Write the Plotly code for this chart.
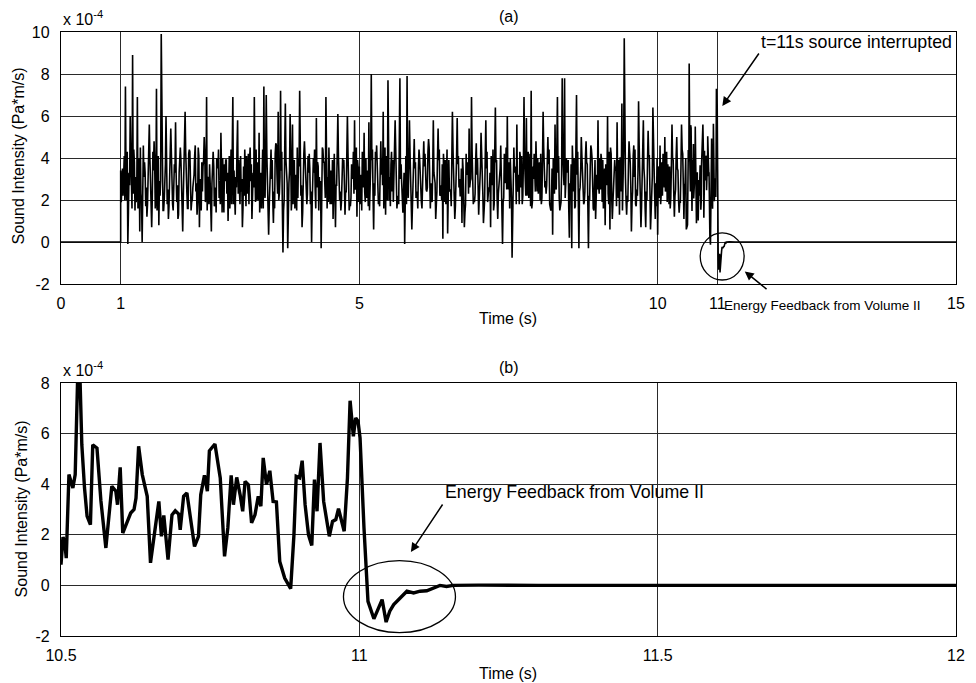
import numpy as np
import plotly.graph_objects as go

# ---------------- data (values in units of 1e-4 Pa*m/s) ----------------
# panel (a): source on from t = 1 s; peaks/troughs read every 0.04 s (1.00 .. 10.48 s)
a_t0 = 1.0
a_dt = 0.04
a_vals = [
    # 1.00 - 1.96
    3.4, 2.2, 7.4, -0.1, 6.0, 8.9, 1.5, 6.9, 0.5, 0.0, 3.8, 1.2, 5.6, 0.7, 4.8, 7.3, 0.8, 9.9, 1.5, 6.0, 1.1, 5.4, 1.5, 5.7, 1.1,
    # 2.00 - 2.96
    4.5, 0.5, 6.2, 1.6, 4.3, 2.0, 4.1, 1.3, 0.7, 3.8, 5.0, 6.9, 1.8, 0.5, 3.6, 1.4, 4.4, 5.2, 1.5, 3.9, 1.0, 3.2, 6.9, 1.3, 5.8,
    # 3.00 - 3.96
    1.8, 0.7, 4.4, 2.3, 3.9, 1.1, 6.9, 2.0, 5.2, 1.6, 7.4, 7.0, 0.35, 4.4, 0.9, 4.7, 6.2, 7.2, -0.5, 6.6, -0.3, 6.1, 5.6, 1.6, 4.5,
    # 4.00 - 4.96
    7.2, 0.7, 4.8, 1.8, 4.2, 0.0, 3.3, 5.9, 1.5, -0.3, 3.8, 6.9, 1.9, 3.4, 1.1, 0.7, 6.1, 2.4, 4.0, 1.3, 6.0, 1.8, 3.1, 5.8, 1.2,
    # 5.00 - 5.96
    3.6, 1.5, 5.2, 2.1, 5.7, 8.0, 0.6, 3.9, 1.8, 4.8, 6.2, 1.3, 7.7, 1.7, 3.9, 5.8, 2.0, 7.8, 1.6, -0.1, 7.9, 5.8, 0.6, 4.9, 2.4,
    # 6.00 - 6.96
    4.4, 1.9, 4.8, 2.5, 4.9, 2.8, 5.8, 1.1, 5.4, 2.3, 0.15, 3.9, 0.4, 2.5, 6.2, 1.1, 5.9, 3.0, 0.9, 0.7, 3.2, 5.4, 6.9, 2.0, 4.7,
    # 7.00 - 7.96
    1.3, 5.2, 0.9, 5.8, 2.6, 0.7, 4.4, 6.4, 1.1, 3.5, -0.1, 2.8, 6.0, 1.6, -0.75, 3.3, 5.6, 1.8, 4.1, 6.9, 5.9, 2.1, 7.2, 3.0, 4.8,
    # 8.00 - 8.96
    2.3, 4.2, 6.2, 2.9, 5.0, 1.7, 0.35, 5.6, 6.9, 1.5, 7.8, 7.8, 3.3, 0.2, -0.3, 4.0, 7.0, -0.3, 5.0, 1.8, 4.8, -0.3, 4.6, 1.6, 1.1,
    # 9.00 - 9.96
    5.8, 2.5, 3.9, 0.8, 6.0, 0.6, 1.1, 3.9, 5.7, 1.3, 6.6, 9.7, 1.3, 4.8, 0.5, 4.6, 1.7, 6.7, 0.7, 5.8, 0.7, 5.3, 0.6, 6.4, 1.1,
    # 10.00 - 10.48
    0.35, 4.6, 2.2, 5.0, 1.9, 3.6, 5.6, 1.2, 5.0, 1.4, 5.6, 1.1, 0.6,
]
# panel (a): the dense core of the band, read between those points
# offset +0.02 s (1.02 .. 10.46 s)
a_mid_vals = [
    2.6, 4.1, 2.0, 3.3, 2.5, 4.4, 1.9, 3.6, 2.3, 4.6, 1.7, 3.2, 2.9, 4.3, 1.6, 3.4, 2.2, 4.0, 2.7, 1.8, 3.9, 2.4, 3.7, 1.9, 3.3,
    2.1, 3.8, 2.6, 4.2, 1.5, 3.0, 2.4, 4.5, 2.2, 3.6, 1.9, 3.1, 2.8, 4.0, 2.0, 3.5, 2.5, 1.4, 3.7, 2.3, 4.1, 1.8, 3.4, 2.6, 3.9,
    2.4, 3.6, 1.7, 4.2, 2.9, 3.3, 1.9, 3.8, 2.5, 4.4, 2.1, 3.0, 2.7, 3.9, 1.6, 3.2, 2.3, 4.3, 2.0, 3.5, 2.8, 1.5, 3.7, 2.4, 4.0,
    2.2, 3.4, 2.6, 4.1, 1.8, 3.1, 2.5, 3.8, 2.0, 4.5, 2.9, 1.6, 3.6, 2.3, 4.2, 2.7, 3.3, 1.9, 3.9, 2.4, 3.0, 2.1, 4.3, 2.6, 3.5,
    2.5, 3.9, 1.9, 3.2, 2.8, 4.4, 2.2, 3.5, 1.7, 4.0, 2.6, 3.1, 2.0, 4.3, 2.9, 3.4, 1.8, 3.7, 2.4, 4.1, 2.1, 3.0, 2.7, 3.8, 1.6,
    3.3, 2.3, 4.2, 2.6, 3.6, 1.9, 3.0, 2.4, 4.4, 2.0, 3.5, 2.7, 3.9, 1.7, 3.2, 2.5, 4.1, 2.2, 3.4, 1.8, 3.8, 2.9, 3.1, 2.3, 4.0,
    2.6, 3.7, 2.0, 4.3, 2.4, 3.2, 1.8, 3.9, 2.7, 3.4, 2.1, 4.5, 2.5, 3.0, 1.6, 3.6, 2.8, 4.0, 2.2, 3.3, 2.6, 4.2, 1.9, 3.5, 2.4,
    3.8, 2.1, 3.4, 2.7, 4.4, 2.0, 3.1, 2.5, 4.1, 1.9, 3.6, 2.8, 3.9, 2.2, 3.3, 1.7, 4.3, 2.6, 3.0, 2.4, 3.7, 2.0, 4.0, 2.9, 3.2,
    2.3, 3.9, 2.6, 3.3, 1.8, 4.2, 2.5, 3.6, 2.1, 4.0, 2.8, 3.1, 1.9, 3.8, 2.4, 4.4, 2.2, 3.4, 2.7, 3.0, 2.0, 4.1, 2.6, 3.5, 1.7,
    3.6, 2.3, 4.0, 2.7, 3.2, 2.1, 3.9, 2.5, 3.4, 1.9, 4.2, 2.8,
]
# offset +0.01 s (1.01 .. 10.45 s)
a_q1_vals = [
    1.9, 3.7, 2.8, 1.4, 4.2, 2.3, 3.1, 1.6, 4.5, 2.7, 3.3, 1.8, 4.0, 2.1, 3.8, 1.5, 2.9, 4.4, 2.0, 3.6, 1.7, 4.1, 2.5, 3.2, 1.3,
    3.9, 2.2, 4.3, 1.6, 3.4, 2.6, 4.6, 1.9, 3.0, 2.4, 4.2, 1.5, 3.7, 2.8, 1.7, 4.0, 2.1, 3.5, 1.4, 3.9, 2.6, 4.4, 1.8, 3.1, 2.3,
    4.1, 1.6, 3.3, 2.5, 4.5, 1.9, 3.6, 2.2, 1.4, 3.8, 2.7, 4.2, 1.7, 3.0, 2.4, 4.6, 2.0, 3.4, 1.5, 3.9, 2.6, 4.3, 1.8, 3.2, 2.1,
    3.7, 1.4, 4.0, 2.3, 3.5, 1.9, 4.4, 2.6, 3.1, 1.6, 3.8, 2.2, 4.5, 1.8, 3.3, 2.7, 4.1, 1.5, 3.6, 2.4, 4.2, 1.7, 3.0, 2.5, 3.9,
    1.8, 4.3, 2.4, 3.4, 1.5, 3.9, 2.8, 4.6, 2.0, 3.2, 1.6, 4.1, 2.5, 3.7, 1.9, 4.4, 2.2, 3.0, 1.4, 3.8, 2.7, 4.2, 1.7, 3.5, 2.3,
    4.0, 1.6, 3.6, 2.4, 4.5, 2.0, 3.3, 1.5, 3.9, 2.7, 4.2, 1.8, 3.1, 2.5, 4.4, 1.7, 3.7, 2.2, 4.0, 1.4, 3.4, 2.6, 4.3, 1.9, 3.2,
    2.1, 4.4, 1.7, 3.5, 2.6, 4.1, 1.5, 3.8, 2.3, 4.6, 1.9, 3.2, 2.7, 4.0, 1.4, 3.6, 2.4, 4.3, 1.8, 3.9, 2.2, 3.1, 1.6, 4.2, 2.5,
    3.4, 1.8, 4.5, 2.3, 3.7, 1.5, 4.0, 2.6, 3.3, 1.7, 4.3, 2.1, 3.6, 2.8, 4.6, 1.6, 3.2, 2.4, 4.1, 1.9, 3.8, 2.2, 4.4, 1.5, 3.0,
    2.7, 4.2, 1.6, 3.7, 2.3, 4.5, 1.9, 3.4, 2.6, 4.0, 1.5, 3.8, 2.2, 4.3, 1.8, 3.1, 2.5, 4.6, 1.7, 3.5, 2.4, 4.1, 1.4, 3.9, 2.8,
    3.3, 1.8, 4.2, 2.4, 3.7, 1.6, 4.0, 2.2, 3.5, 1.9, 4.4, 2.6,
]
# offset +0.03 s (1.03 .. 10.47 s)
a_q3_vals = [
    3.5, 2.0, 4.3, 2.7, 1.6, 3.8, 2.4, 4.0, 1.9, 3.1, 2.6, 4.5, 1.7, 3.4, 2.2, 4.1, 2.9, 1.5, 3.7, 2.5, 4.2, 1.8, 3.3, 2.7, 4.0,
    1.7, 3.6, 2.3, 4.4, 1.9, 3.2, 2.8, 4.1, 1.5, 3.9, 2.4, 3.0, 2.0, 4.3, 2.6, 3.5, 1.8, 4.0, 2.9, 3.3, 1.6, 3.8, 2.2, 4.5, 2.5,
    3.0, 2.2, 4.1, 1.8, 3.7, 2.6, 4.4, 2.0, 3.3, 1.6, 4.0, 2.5, 3.6, 1.9, 4.2, 2.3, 3.1, 1.7, 4.5, 2.8, 3.4, 2.1, 3.9, 1.5, 3.6,
    2.7, 4.2, 1.9, 3.3, 2.4, 4.0, 1.6, 3.6, 2.9, 4.4, 2.1, 3.1, 1.8, 3.9, 2.5, 4.3, 2.0, 3.4, 2.7, 4.1, 1.5, 3.7, 2.3, 4.5, 1.9,
    3.2, 2.6, 4.0, 1.7, 3.6, 2.2, 4.3, 1.9, 3.4, 2.7, 4.5, 2.0, 3.1, 2.4, 3.9, 1.6, 4.2, 2.8, 3.3, 1.8, 3.7, 2.5, 4.1, 2.1, 3.5,
    2.0, 3.8, 2.5, 4.3, 1.6, 3.4, 2.8, 4.0, 2.2, 3.7, 1.9, 4.4, 2.4, 3.2, 1.7, 4.1, 2.6, 3.5, 2.0, 4.2, 2.3, 3.0, 1.8, 3.9, 2.7,
    3.6, 2.3, 4.0, 1.9, 3.3, 2.7, 4.4, 2.0, 3.5, 1.6, 4.2, 2.5, 3.8, 2.1, 4.5, 1.8, 3.2, 2.6, 3.9, 2.2, 4.3, 1.7, 3.6, 2.4, 4.0,
    2.0, 3.9, 2.6, 4.2, 1.8, 3.5, 2.3, 4.4, 2.1, 3.2, 2.7, 4.0, 1.6, 3.7, 2.4, 4.5, 1.9, 3.4, 2.8, 4.1, 1.7, 3.6, 2.2, 3.9, 2.5,
    4.0, 1.9, 3.5, 2.7, 4.3, 2.1, 3.2, 1.7, 3.9, 2.4, 4.4, 2.0, 3.6, 2.6, 4.1, 1.8, 3.3, 2.3, 4.2, 1.6, 3.8, 2.5, 3.1, 2.2, 4.0,
    2.1, 3.8, 2.6, 4.3, 1.8, 3.6, 2.3, 4.1, 2.0, 3.5, 2.7, 4.0,
]
# silent before the source starts, and after the feedback has died out
pre_t = [0.0, 1.0]
pre_v = [0.0, 0.0]
post_t = [15.0]
post_v = [0.0]

# panel (b): detail 10.5 s - 12 s
b_t = [10.500, 10.5033, 10.5061, 10.5088, 10.5133, 10.5199, 10.5238, 10.5282, 10.5316, 10.5349,
       10.5394, 10.5437, 10.5493, 10.5532, 10.5603, 10.5669, 10.5752, 10.5852, 10.5919, 10.5947,
       10.5992, 10.6035, 10.6113, 10.6168, 10.6224, 10.6257, 10.6301, 10.6362, 10.6445, 10.6500,
       10.6583, 10.6640, 10.6683, 10.6723, 10.6794, 10.6860, 10.6915, 10.6972, 10.6998, 10.7055,
       10.7110, 10.7164, 10.7238, 10.7304, 10.7342, 10.7404, 10.7453, 10.7487, 10.7580, 10.7669,
       10.7741, 10.7796, 10.7852, 10.7890, 10.7945, 10.8002, 10.8045, 10.8085, 10.8140, 10.8194,
       10.8251, 10.8306, 10.8350, 10.8389, 10.8444, 10.8500, 10.8555, 10.8610, 10.8666, 10.8749,
       10.8849, 10.8904, 10.8942, 10.8998, 10.9042, 10.9091, 10.9148, 10.9203, 10.9248, 10.9291,
       10.9341, 10.9402, 10.9457, 10.9497, 10.9551, 10.9606, 10.9651, 10.9706, 10.9746, 10.9801,
       10.9845, 10.9900, 10.9939, 10.9978, 11.0012, 11.0078, 11.0145, 11.0244, 11.0327, 11.0382,
       11.0449, 11.0510, 11.0576, 11.0659, 11.0714, 11.0797, 11.0909, 11.1018, 11.1130, 11.1241,
       11.1351, 11.1462, 11.1573, 11.20, 11.25, 11.30, 12.0]
b_v = [0.82, 1.91, 1.75, 1.08, 4.38, 3.85, 4.38, 8.5, 8.4, 5.56,
       3.85, 2.74, 2.40, 5.56, 5.43, 3.34, 1.48, 3.92, 3.72, 3.19,
       4.67, 2.07, 2.53, 2.86, 3.0, 3.45, 5.5, 4.38, 3.52, 0.89,
       2.34, 3.32, 1.94, 2.77, 1.02, 2.79, 2.95, 2.82, 2.20, 3.52,
       3.65, 2.66, 1.54, 1.94, 3.58, 4.35, 3.72, 5.32, 5.59, 4.25,
       1.15, 2.27, 4.35, 3.19, 4.27, 3.58, 2.93, 4.11, 3.98, 2.47,
       2.79, 3.52, 3.13, 5.04, 3.98, 4.53, 3.32, 3.30, 0.95, 0.29,
       -0.13, 2.0, 4.31, 4.25, 4.93, 3.19, 2.0, 1.58, 4.18, 2.93,
       5.63, 3.32, 2.60, 1.94, 2.53, 2.60, 3.03, 2.53, 2.14, 4.25,
       7.30, 5.89, 6.62, 6.49, 5.83, 2.27, -0.63, -1.32, -0.89, -0.56,
       -1.45, -1.02, -0.76, -0.56, -0.43, -0.23, -0.30, -0.23, -0.21, -0.10,
       0.0, -0.04, 0.0, 0.01, -0.01, 0.0, 0.0]

a_xticks = [0, 1, 5, 10, 11, 15]
a_yticks = [-2, 0, 2, 4, 6, 8, 10]
b_xticks = [10.5, 11, 11.5, 12]
b_yticks = [-2, 0, 2, 4, 6, 8]

# ---------------- build panel (a) series ----------------
pts = [(a_t0 + a_dt * i, v) for i, v in enumerate(a_vals)]
pts += [(a_t0 + 0.01 + a_dt * i, v) for i, v in enumerate(a_q1_vals)]
pts += [(a_t0 + 0.02 + a_dt * i, v) for i, v in enumerate(a_mid_vals)]
pts += [(a_t0 + 0.03 + a_dt * i, v) for i, v in enumerate(a_q3_vals)]
pts.sort(key=lambda p: p[0])
a_t = [p[0] for p in pts if p[0] < 10.5]
a_v = [p[1] for p in pts if p[0] < 10.5]
full_t = pre_t + a_t + b_t + post_t
full_v = pre_v + a_v + b_v + post_v

# ---------------- figure ----------------
W, H = 976, 683
ML, MR, MT, MB = 61, 11, 32, 47
PW = W - ML - MR
PH = H - MT - MB


def px(x):
    return (x - ML) / PW


def py(y):
    return (H - MB - y) / PH


FONT = "Arial, Liberation Sans, Helvetica, sans-serif"
GRID = "#2a2a2a"
FS = 16

fig = go.Figure()
fig.add_trace(go.Scatter(x=full_t, y=full_v, mode="lines",
                         line=dict(color="black", width=1.6),
                         xaxis="x", yaxis="y", showlegend=False, hoverinfo="skip"))
fig.add_trace(go.Scatter(x=b_t, y=b_v, mode="lines",
                         line=dict(color="black", width=3.4),
                         xaxis="x2", yaxis="y2", showlegend=False, hoverinfo="skip"))

axis_common = dict(showline=True, mirror=True, linecolor="black", linewidth=1.3,
                   showgrid=True, gridcolor=GRID, gridwidth=1.2, zeroline=False,
                   ticks="", tickfont=dict(family=FONT, size=FS, color="black"))

fig.update_layout(
    width=W, height=H,
    margin=dict(l=ML, r=MR, t=MT, b=MB),
    paper_bgcolor="white", plot_bgcolor="white",
    font=dict(family=FONT, size=FS, color="black"),
    xaxis=dict(domain=[0, 1], anchor="y", range=[0, 15], tickvals=a_xticks,
               ticktext=[str(v) for v in a_xticks], ticklabelstandoff=5, **axis_common),
    yaxis=dict(domain=[py(284), 1], anchor="x", range=[-2, 10], tickvals=a_yticks,
               ticktext=[str(v) for v in a_yticks], ticklabelstandoff=7, **axis_common),
    xaxis2=dict(domain=[0, 1], anchor="y2", range=[10.5, 12], tickvals=b_xticks,
                ticktext=["10.5", "11", "11.5", "12"], ticklabelstandoff=5, **axis_common),
    yaxis2=dict(domain=[0, py(383)], anchor="x2", range=[-2, 8], tickvals=b_yticks,
                ticktext=[str(v) for v in b_yticks], ticklabelstandoff=7, **axis_common),
)


def label(text, x, y, size=FS, angle=0, xanchor="center"):
    fig.add_annotation(text=text, x=px(x), y=py(y), xref="paper", yref="paper",
                       xanchor=xanchor, yanchor="middle", showarrow=False, textangle=angle,
                       font=dict(family=FONT, size=size, color="black"))


def arrow(x_head, y_head, x_tail, y_tail, xr, yr):
    fig.add_annotation(x=x_head, y=y_head, ax=x_tail, ay=y_tail, xref=xr, yref=yr,
                       axref=xr, ayref=yr, text="", showarrow=True, arrowhead=2,
                       arrowsize=1.2, arrowwidth=1.5, arrowcolor="black")


# panel titles
label("(a)", 513, 16)
label("(b)", 513, 367)
# x axis titles
label("Time (s)", 512, 318)
label("Time (s)", 512, 673)
# y axis titles
label("Sound Intensity (Pa*m/s)", 18, 156, angle=-90)
label("Sound Intensity (Pa*m/s)", 21, 509, angle=-90)
# exponent labels
label("x 10<sup>-4</sup>", 61, 18, xanchor="left")
label("x 10<sup>-4</sup>", 61, 369, xanchor="left")

# panel (a) annotations
label("t=11s source interrupted", 864, 42, size=17.8)
arrow((729 - 61) / 60.27, 10 - (106 - 32) / 21, (767 - 61) / 60.27, 10 - (52 - 32) / 21, "x", "y")
label("Energy Feedback from Volume II", 830, 305, size=13.5)
arrow(11.46, -1.4, 11.85, -2.3, "x", "y")

# panel (b) annotation
label("Energy Feedback from Volume II", 580, 492, size=17.8)
arrow(10.5 + (414 - 61) / 602, 8 - (552 - 383) / 25.3, 10.5 + (447 - 61) / 602, 8 - (503 - 383) / 25.3, "x2", "y2")

# ellipses around the feedback region
fig.add_shape(type="circle", xref="x", yref="y", x0=10.713, x1=11.449, y0=-1.81, y1=0.43,
              line=dict(color="black", width=1.3))
fig.add_shape(type="circle", xref="x2", yref="y2", x0=10.9734, x1=11.1611, y0=-1.87, y1=0.976,
              line=dict(color="black", width=1.3))

fig.write_html("out.html")
